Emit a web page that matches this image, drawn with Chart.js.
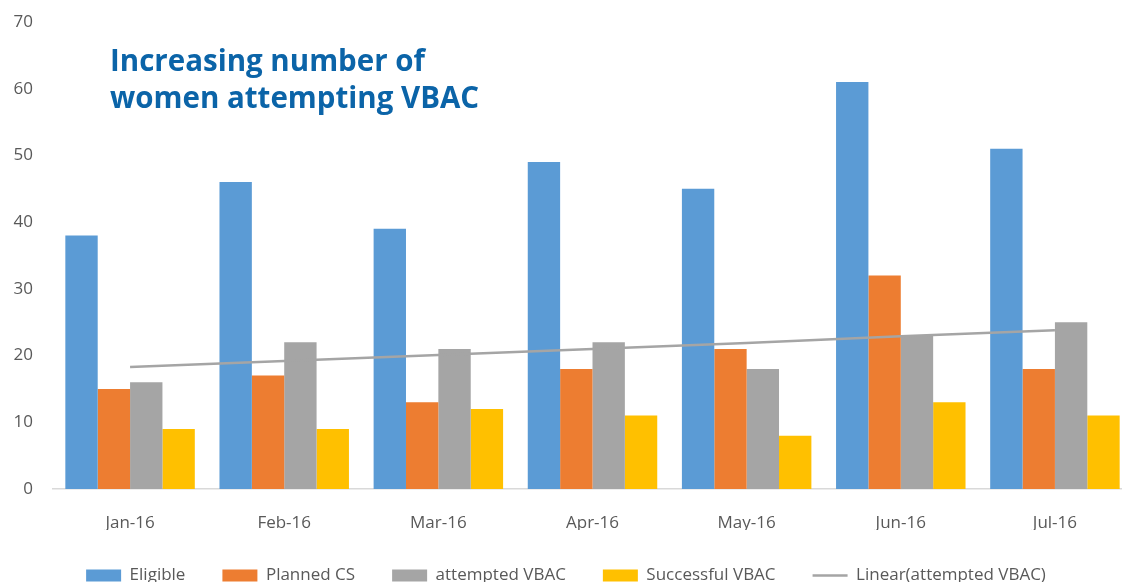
<!DOCTYPE html>
<html>
<head>
<meta charset="utf-8">
<script src="https://cdn.jsdelivr.net/npm/chart.js@4"></script>
<style>
  html, body { margin: 0; padding: 0; background: #fff; overflow: hidden; }
  #wrap { position: relative; width: 1122px; height: 582px; overflow: hidden; }
  #box { position: absolute; left: 0; top: 0; width: 1132px; height: 594px; }
  #title {
    position: absolute; left: 110px; top: 41px;
    font-family: "Open Sans", sans-serif; font-weight: bold;
    font-size: 29.5px; line-height: 37px; color: #0B64A8;
  }
</style>
</head>
<body>
<div id="wrap">
  <div id="box"><canvas id="chart"></canvas></div>
  <div id="title">Increasing number of<br>women attempting VBAC</div>
</div>
<script>
const months = ["Jan-16", "Feb-16", "Mar-16", "Apr-16", "May-16", "Jun-16", "Jul-16"];
const eligible = [38, 46, 39, 49, 45, 61, 51];
const plannedCS = [15, 17, 13, 18, 21, 32, 18];
const attemptedVBAC = [16, 22, 21, 22, 18, 23, 25];
const successfulVBAC = [9, 9, 12, 11, 8, 13, 11];
// trendline values at each month
const trendAttempted = [18.3, 19.2, 20.1, 21.0, 21.9, 22.9, 23.8];

const textColor = '#595959';
const font = { family: '"Open Sans", sans-serif', size: 17 };

const ctx = document.getElementById('chart').getContext('2d');
new Chart(ctx, {
  data: {
    labels: months,
    datasets: [
      {
        type: 'line',
        label: 'Linear(attempted VBAC)',
        data: trendAttempted,
        borderColor: '#A5A5A5',
        backgroundColor: '#A5A5A5',
        borderWidth: 2.5,
        pointRadius: 0,
        pointStyle: 'line',
        order: 0
      },
      { type: 'bar', label: 'Eligible', data: eligible, backgroundColor: '#5B9BD5', pointStyle: 'rect', order: 1 },
      { type: 'bar', label: 'Planned CS', data: plannedCS, backgroundColor: '#ED7D31', pointStyle: 'rect', order: 1 },
      { type: 'bar', label: 'attempted VBAC', data: attemptedVBAC, backgroundColor: '#A5A5A5', pointStyle: 'rect', order: 1 },
      { type: 'bar', label: 'Successful VBAC', data: successfulVBAC, backgroundColor: '#FFC000', pointStyle: 'rect', order: 1 }
    ]
  },
  options: {
    responsive: true,
    maintainAspectRatio: false,
    animation: false,
    datasets: {
      bar: { categoryPercentage: 0.84, barPercentage: 1.0 }
    },
    layout: { padding: { top: 22, left: 0, right: 0, bottom: 0 } },
    plugins: {
      title: { display: false },
      tooltip: { enabled: false },
      legend: {
        position: 'bottom',
        labels: {
          color: textColor,
          font: font,
          usePointStyle: true,
          pointStyleWidth: 35,
          boxHeight: 12,
          padding: 37,
          sort: (a, b) => (a.datasetIndex === 0 ? 1 : 0) - (b.datasetIndex === 0 ? 1 : 0)
        }
      }
    },
    scales: {
      x: {
        grid: { display: false },
        border: { display: true, color: '#D9D9D9', width: 1.5 },
        ticks: { color: textColor, font: font, padding: 16 },
        afterFit: (s) => { s.height = 41; }
      },
      y: {
        min: 0,
        max: 70,
        grid: { display: false, drawTicks: false },
        border: { display: false },
        ticks: { stepSize: 10, color: textColor, font: font, padding: 20 },
        afterFit: (s) => { s.width = 53; s.paddingTop = 10; }
      }
    }
  }
});
</script>
</body>
</html>
